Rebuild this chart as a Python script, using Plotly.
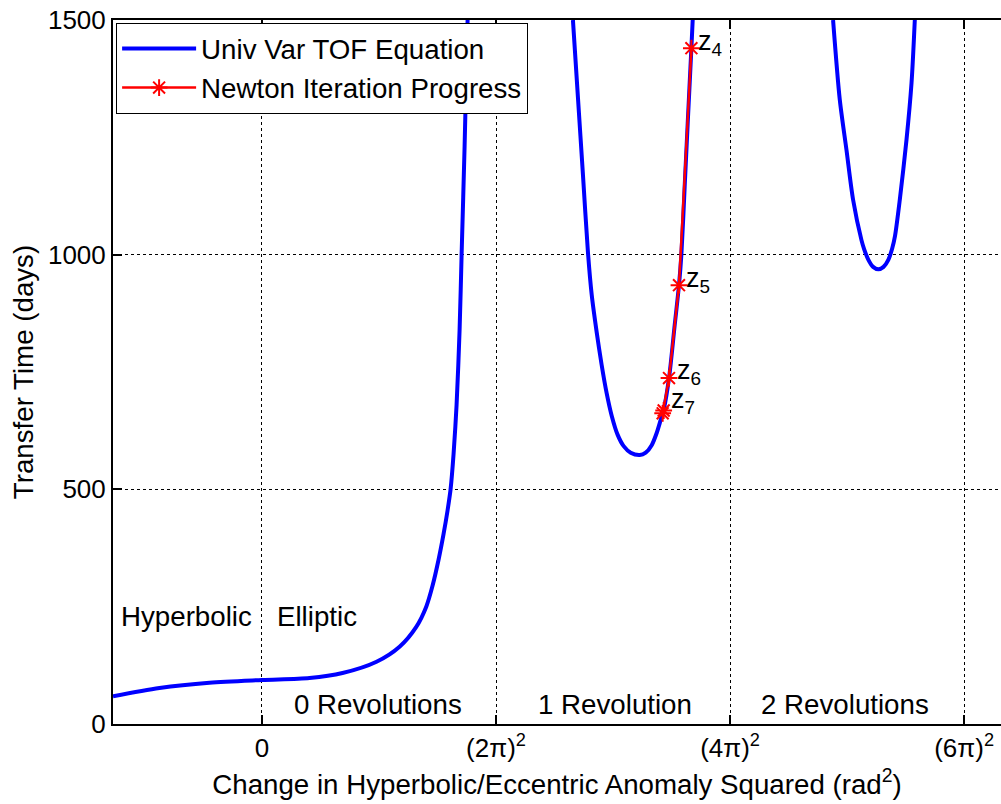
import plotly.graph_objects as go
import math

# Axis coordinate = signed sqrt of z (rad), ticks at 0, 2pi, 4pi, 6pi
tick_vals = [0, 2 * math.pi, 4 * math.pi, 6 * math.pi]
tick_text = ["0", "(2π)<sup>2</sup>", "(4π)<sup>2</sup>", "(6π)<sup>2</sup>"]

# Branch 0 (0 revolutions)
b0_x = [-4.0, -2.753, -1.410, 0.0, 1.276, 2.162, 3.075, 3.693, 4.142, 4.410,
        4.580, 4.740, 4.875, 4.982, 5.063, 5.143, 5.224, 5.305, 5.359, 5.439, 5.520]
b0_y = [59, 76.7, 88, 93.8, 98, 108.7, 132.7, 164.7, 207, 250,
        295, 350, 405, 455, 500, 575, 680, 840, 1000, 1230, 1500]

# Branch 1 (1 revolution)
b1_x = [8.348, 8.482, 8.617, 8.751, 8.851, 8.985, 9.119, 9.253, 9.388, 9.549,
        9.710, 9.898, 10.140, 10.301, 10.462, 10.596, 10.704, 10.784, 10.927,
        11.080, 11.195, 11.260, 11.348, 11.429, 11.528, 11.563]
b1_y = [1500, 1335, 1170, 1005, 915, 835, 765, 705, 657, 616,
        592, 578, 573, 578, 594, 620, 648, 669, 737,
        850, 935, 1001, 1146, 1280, 1440, 1500]

# Branch 2 (2 revolutions)
b2_x = [15.332, 15.512, 15.692, 15.869, 16.094, 16.165, 16.280, 16.406, 16.548,
        16.687, 16.815, 16.915, 16.995, 17.123, 17.303, 17.438, 17.526]
b2_y = [1500, 1330, 1223, 1117, 1031, 1012, 989, 974, 969,
        974, 989, 1012, 1040, 1117, 1245, 1366, 1500]

# Newton iterates z4..z8
newton_x = [11.528, 11.195, 10.927, 10.784, 10.757]
newton_y = [1440, 935, 737, 668, 662]
newton_labels = ["z<sub>4</sub>", "z<sub>5</sub>", "z<sub>6</sub>", "z<sub>7</sub>"]
label_x = [11.66, 11.33, 11.09, 10.94]
label_y = [1450, 947, 749, 688]

FONT = "Liberation Sans, Arial, Helvetica, sans-serif"

curve_x = b0_x + [None] + b1_x + [None] + b2_x
curve_y = b0_y + [None] + b1_y + [None] + b2_y

fig = go.Figure()
fig.add_trace(go.Scatter(
    x=curve_x, y=curve_y, mode="lines", name="Univ Var TOF Equation",
    line=dict(color="#0000FF", width=4, shape="spline", smoothing=0.8),
    connectgaps=False,
))
fig.add_trace(go.Scatter(
    x=newton_x, y=newton_y, mode="lines+markers", name="Newton Iteration Progress",
    line=dict(color="#FF0000", width=2.5),
    marker=dict(symbol="asterisk-open", size=14, color="#FF0000",
                line=dict(color="#FF0000", width=2)),
))

annotations = []
for t, x, y in zip(newton_labels, label_x, label_y):
    annotations.append(dict(x=x, y=y, text=t, showarrow=False, xanchor="left",
                            yanchor="middle", font=dict(size=27, color="black", family=FONT)))

region_text = ["Hyperbolic", "Elliptic", "0 Revolutions", "1 Revolution", "2 Revolutions"]
region_x = [-2.028, 1.49, 3.116, 9.482, 15.646]
region_y = [228, 228, 42.6, 42.6, 42.6]
for t, x, y in zip(region_text, region_x, region_y):
    annotations.append(dict(x=x, y=y, text=t, showarrow=False, xanchor="center",
                            yanchor="middle", font=dict(size=27.7, color="black", family=FONT)))

fig.update_layout(
    width=1001, height=804,
    margin=dict(l=113, r=0, t=20, b=80),
    paper_bgcolor="white", plot_bgcolor="white",
    font=dict(family=FONT, size=26, color="black"),
    showlegend=True,
    legend=dict(x=0.0035, y=0.931, xanchor="left", yanchor="middle",
                bgcolor="white", bordercolor="black", borderwidth=1,
                font=dict(size=27.7, color="black", family=FONT),
                itemwidth=74, tracegroupgap=0),
    annotations=annotations,
)
fig.update_xaxes(
    range=[-4.0, 19.84], tickvals=tick_vals, ticktext=tick_text,
    showline=True, linecolor="black", linewidth=2, mirror="ticks",
    ticks="inside", ticklen=9, tickwidth=1.5, tickcolor="black",
    showgrid=True, gridcolor="black", gridwidth=1, griddash="dot",
    zeroline=False,
    title=dict(text="Change in Hyperbolic/Eccentric Anomaly Squared (rad<sup>2</sup>)",
               font=dict(size=27.7, family=FONT), standoff=12),
    tickfont=dict(size=26, family=FONT),
)
fig.update_yaxes(
    range=[0, 1500], tickvals=[0, 500, 1000, 1500],
    showline=True, linecolor="black", linewidth=2, mirror=False,
    ticks="inside", ticklen=9, tickwidth=1.5, tickcolor="black",
    showgrid=True, gridcolor="black", gridwidth=1, griddash="dot",
    zeroline=False,
    title=dict(text="Transfer Time (days)", font=dict(size=27.7, family=FONT), standoff=6),
    tickfont=dict(size=26, family=FONT),
)

fig.write_html("out.html")
